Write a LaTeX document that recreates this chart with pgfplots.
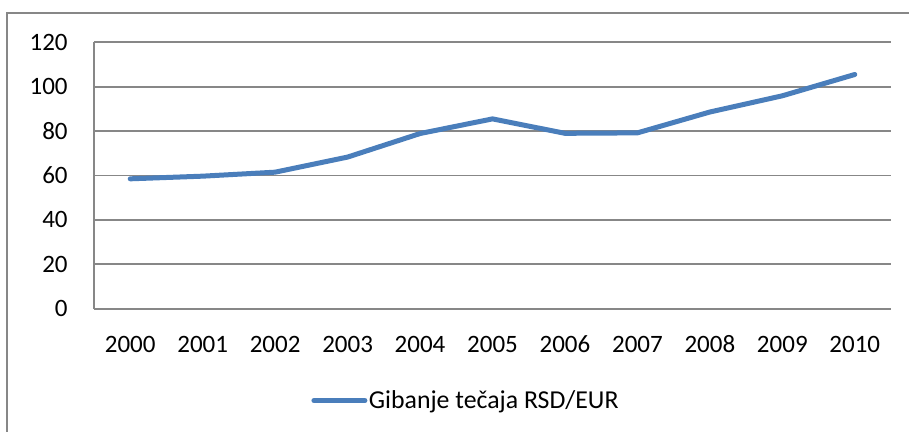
\documentclass[border=0pt]{standalone}
\usepackage{fontspec}
\setmainfont{Carlito}
\usepackage{pgfplots}
\pgfplotsset{compat=1.18}
\definecolor{xlblue}{HTML}{4A7EBB}
\definecolor{xlgrid}{HTML}{878787}

\begin{document}
\begin{tikzpicture}
% page = 909 x 432 px, 1 px = 0.5 bp, origin bottom left
\useasboundingbox (0,0) rectangle (454.5bp,216bp);
\draw[xlgrid,line width=1bp] (3.25bp,-5bp) -- (3.25bp,209.25bp) -- (460bp,209.25bp);
\begin{axis}[
    at={(47bp,61.65bp)}, anchor=south west,
    scale only axis,
    width=398.5bp, height=133.2bp,
    xmin=-0.5, xmax=10.5,
    ymin=0, ymax=120,
    ytick={0,20,...,120},
    xtick={0,...,10},
    xticklabels={2000,2001,2002,2003,2004,2005,2006,2007,2008,2009,2010},
    axis lines=left,
    axis line style={-,draw=xlgrid,line width=0.9bp},
    ymajorgrids,
    grid style={draw=xlgrid,line width=0.9bp},
    major tick length=0pt,
    /pgf/number format/assume math mode=true,
    tick label style={font=\fontsize{12.5bp}{15bp}\selectfont,inner sep=0pt},
    xticklabel style={anchor=base,yshift=-22bp},
    yticklabel style={xshift=-13bp},
    legend style={at={(0.2723,-0.345)},anchor=west,draw=none,fill=none,
        inner sep=0pt,
        font=\fontsize{12.9bp}{15bp}\selectfont,
        nodes={inner xsep=0.75bp,inner ysep=0pt}},
    legend image code/.code={\draw[#1] (1.25bp,0bp) -- (26.75bp,0bp);},
]
\addplot[color=xlblue,line width=2.5bp,line join=round,line cap=round] coordinates {
(0,58.5) (1,59.7) (2,61.5) (3,68.3) (4,78.9) (5,85.5)
(6,79.0) (7,79.2) (8,88.6) (9,95.9) (10,105.5)};
\addlegendentry{Gibanje tečaja RSD/EUR}
\end{axis}
\end{tikzpicture}
\end{document}
